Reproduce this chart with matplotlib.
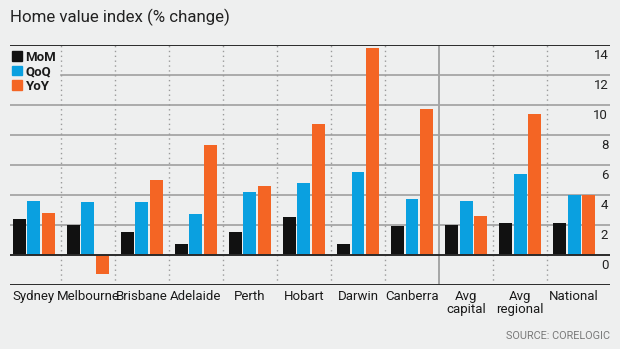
import numpy as np
import matplotlib.pyplot as plt
from matplotlib.patches import Patch
from matplotlib.transforms import blended_transform_factory

plt.rcParams['font.family'] = ['Roboto', 'DejaVu Sans']

BG = "#eeefef"
BLACK = "#111111"
BLUE = "#0aa0e0"
ORANGE = "#f46524"

regions = ["Sydney", "Melbourne", "Brisbane", "Adelaide", "Perth", "Hobart",
           "Darwin", "Canberra", "Avg\ncapital", "Avg\nregional", "National"]
mom = [2.4, 2.0, 1.5, 0.7, 1.5, 2.5, 0.7, 1.9, 2.0, 2.1, 2.1]
qoq = [3.6, 3.5, 3.5, 2.7, 4.2, 4.8, 5.5, 3.7, 3.6, 5.4, 4.0]
yoy = [2.8, -1.3, 5.0, 7.3, 4.6, 8.7, 13.8, 9.7, 2.6, 9.4, 4.0]
yticks = [0, 2, 4, 6, 8, 10, 12, 14]

fig = plt.figure(figsize=(6.2, 3.49), dpi=100, facecolor=BG)
ax = fig.add_axes([0.016, 0.184, 0.968, 0.688], facecolor=BG)

x = np.arange(len(regions))
step, w = 0.265, 0.24
ax.bar(x - step, mom, w, color=BLACK, zorder=3)
ax.bar(x, qoq, w, color=BLUE, zorder=3)
ax.bar(x + step, yoy, w, color=ORANGE, zorder=3)

ax.set_xlim(-0.444, 10.667)
ax.set_ylim(-2, 14)

# horizontal grid, dark frame lines at top, zero and bottom
for v in range(2, 14, 2):
    ax.axhline(v, color="#a5a5a5", lw=1.3, zorder=1)
for v in (14, 0, -2):
    ax.axhline(v, color="#2a2a2a", lw=1.4, zorder=4)

# group separators
for i in range(len(regions) - 1):
    if i == 7:
        ax.axvline(i + 0.5, color="#a5a5a5", lw=1.4, zorder=1)
    else:
        ax.axvline(i + 0.5, color="#9a9a9a", lw=1.0, ls=(0, (1, 2.5)), zorder=1)

for s in ax.spines.values():
    s.set_visible(False)
ax.set_xticks([])
ax.set_yticks([])

# value labels sit just under their gridline at the right edge
tr = blended_transform_factory(ax.transAxes, ax.transData)
for v in yticks:
    ax.text(0.997, v - 0.3, str(v), transform=tr, ha="right", va="top",
            fontsize=9.5, color="#222222")

for xi, name in zip(x, regions):
    ax.text(xi, -2.35, name, ha="center", va="top", fontsize=9.5,
            color="#1a1a1a", linespacing=1.0)

handles = [Patch(color=BLACK), Patch(color=BLUE), Patch(color=ORANGE)]
leg = ax.legend(handles, ["MoM", "QoQ", "YoY"], loc="upper left",
                bbox_to_anchor=(-0.0015, 0.985), frameon=True, fancybox=False,
                framealpha=1, facecolor=BG, edgecolor=BG, fontsize=9.5,
                handlelength=0.75, handleheight=0.75, handletextpad=0.3,
                labelspacing=0.1, borderpad=0.2, borderaxespad=0)
for t in leg.get_texts():
    t.set_fontweight("bold")
    t.set_color("#1a1a1a")
leg.set_zorder(5)

fig.text(0.016, 0.95, "Home value index (% change)", ha="left", va="center",
         fontsize=12.2, color="#222222")
fig.text(0.984, 0.038, "SOURCE: CORELOGIC", ha="right", va="center",
         fontsize=7.8, color="#7a7a7a")

fig.savefig("out.png", dpi=100, facecolor=BG)
